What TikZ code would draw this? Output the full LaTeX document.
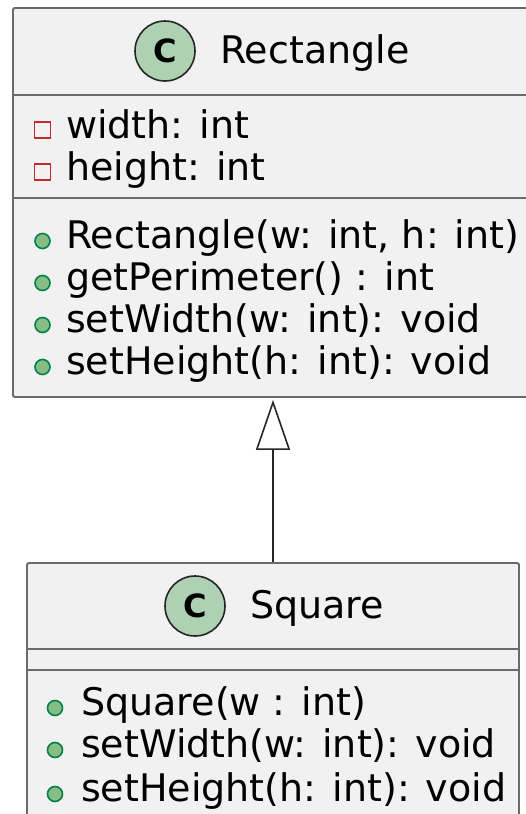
\documentclass[tikz,border=0pt]{standalone}
\usepackage{fontspec}
\setmainfont{DejaVu Sans}
\usetikzlibrary{arrows.meta}
\definecolor{boxfill}{HTML}{F1F1F1}
\definecolor{boxline}{HTML}{6A6A6A}
\definecolor{iconfill}{HTML}{ADD1B2}
\definecolor{privred}{HTML}{C82930}
\definecolor{pubfill}{HTML}{84BE84}
\definecolor{publine}{HTML}{038048}
\tikzset{
  classbox/.style={draw=boxline, fill=boxfill, line width=1.8pt, rounded corners=1.5pt, inner sep=0pt},
  divider/.style={draw=boxline, line width=1.8pt},
  member/.style={anchor=base west, inner sep=0pt, font=\fontsize{38}{42}\selectfont},
  title/.style={anchor=base west, inner sep=0pt, font=\fontsize{38}{42}\selectfont},
  cicon/.style={circle, draw=black!85, fill=iconfill, line width=1.6pt, minimum size=60pt, inner sep=0pt, font=\fontsize{32}{32}\bfseries\selectfont},
  privicon/.style={draw=privred, line width=1.6pt, minimum size=16pt, inner sep=0pt},
  pubicon/.style={circle, draw=publine, fill=pubfill, line width=1.6pt, minimum size=15pt, inner sep=0pt},
  inherit/.style={draw=black!85, line width=1.6pt, -{Triangle[open, length=50pt, width=34pt, fill=white]}}
}
\begin{document}
\begin{tikzpicture}[x=1pt, y=-1pt]
\useasboundingbox (0,0) rectangle (526,814);
\clip (0,0) rectangle (526,814);
% Rectangle class
\node[classbox, minimum width=520pt, minimum height=389pt] (rect) at (273,202.5) {};
\draw[divider] (13,95) -- (533,95);
\draw[divider] (13,198) -- (533,198);
\node[cicon] (rectC) at (165,51) {C};
\node[title] (rectT) at (220,63) {Rectangle};
\node[privicon] (ra1i) at (42.5,130) {};
\node[member] (ra1) at (66,138) {width: int};
\node[privicon] (ra2i) at (42.5,172) {};
\node[member] (ra2) at (66,180) {height: int};
\node[pubicon] (rm1i) at (42.5,241) {};
\node[member] (rm1) at (66,248) {Rectangle(w: int, h: int)};
\node[pubicon] (rm2i) at (42.5,283) {};
\node[member] (rm2) at (66,290) {getPerimeter() : int};
\node[pubicon] (rm3i) at (42.5,325) {};
\node[member] (rm3) at (66,332) {setWidth(w: int): void};
\node[pubicon] (rm4i) at (42.5,367) {};
\node[member] (rm4) at (66,374) {setHeight(h: int): void};
% Square class
\node[classbox, minimum width=492pt, minimum height=262pt] (sq) at (273,694) {};
\draw[divider] (27,649) -- (519,649);
\draw[divider] (27,670) -- (519,670);
\node[cicon] (sqC) at (195,606) {C};
\node[title] (sqT) at (250,618) {Square};
\node[pubicon] (sm1i) at (55,708) {};
\node[member] (sm1) at (81,715) {Square(w : int)};
\node[pubicon] (sm2i) at (55,750) {};
\node[member] (sm2) at (81,757) {setWidth(w: int): void};
\node[pubicon] (sm3i) at (55,794) {};
\node[member] (sm3) at (81,801) {setHeight(h: int): void};
% inheritance
\draw[inherit] (sq.north) -- ([yshift=-2pt]rect.south);
\end{tikzpicture}
\end{document}
